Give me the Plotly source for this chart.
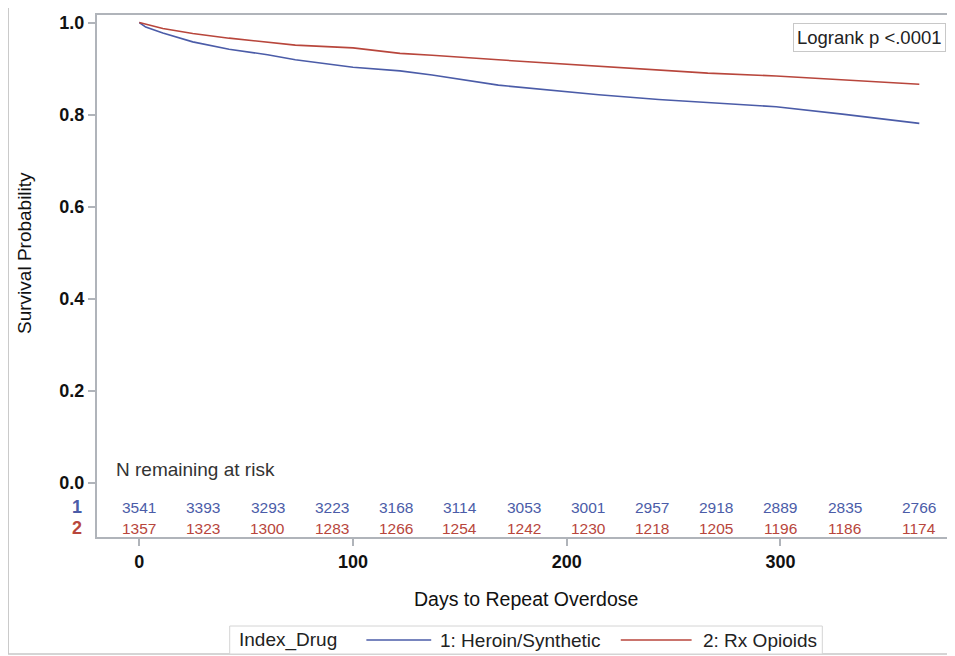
import plotly.graph_objects as go

# ---- data ----
days_heroin = [0, 3, 11, 25, 42, 60, 73, 100, 122, 137, 168, 199, 215, 243, 266, 298, 329, 350, 365]
surv_heroin = [1.000, 0.990, 0.977, 0.958, 0.942, 0.930, 0.919, 0.903, 0.895, 0.886, 0.864, 0.850,
               0.843, 0.833, 0.826, 0.817, 0.801, 0.790, 0.781]

days_rx = [0, 11, 25, 42, 73, 100, 122, 137, 168, 199, 215, 243, 266, 298, 329, 365]
surv_rx = [1.000, 0.987, 0.976, 0.966, 0.951, 0.945, 0.933, 0.929, 0.919, 0.910, 0.904, 0.897,
           0.890, 0.884, 0.875, 0.866]

risk_days = [0, 30, 60, 90, 120, 150, 180, 210, 240, 270, 300, 330, 365]
risk_heroin = [3541, 3393, 3293, 3223, 3168, 3114, 3053, 3001, 2957, 2918, 2889, 2835, 2766]
risk_rx = [1357, 1323, 1300, 1283, 1266, 1254, 1242, 1230, 1218, 1205, 1196, 1186, 1174]

series_names = ["1: Heroin/Synthetic", "2: Rx Opioids"]
legend_title = "Index_Drug"
x_ticks = [0, 100, 200, 300]
y_ticks = [0.0, 0.2, 0.4, 0.6, 0.8, 1.0]

BLUE = "#4b5ca8"
RED = "#b8463c"
FONT = "Liberation Sans, Arial, sans-serif"
GRAY = "#c8c8c8"

# geometry: page body has an 8px margin, so the figure is 8px smaller
OFF = 8
W, H = 955 - OFF, 656 - OFF
PL, PT, PR, PB = 97, 15, 951, 537          # plot box in reference pixels
L, T = PL - OFF, PT - OFF
R, B = W - (PR - OFF), H - (PB - OFF)
PW, PH = PR - PL, PB - PT

def px_x(p):
    return (p - PL) / PW

def px_y(p):
    return 1 - (p - PT) / PH

fig = go.Figure()
fig.add_trace(go.Scatter(x=days_heroin, y=surv_heroin, mode="lines", name=series_names[0],
                         line=dict(color=BLUE, width=1.6)))
fig.add_trace(go.Scatter(x=days_rx, y=surv_rx, mode="lines", name=series_names[1],
                         line=dict(color=RED, width=1.6)))

ann = []
for d, n in zip(risk_days, risk_heroin):
    ann.append(dict(x=d, y=-0.052, xref="x", yref="y", text=str(n), showarrow=False,
                    font=dict(family=FONT, size=15.5, color=BLUE)))
for d, n in zip(risk_days, risk_rx):
    ann.append(dict(x=d, y=-0.098, xref="x", yref="y", text=str(n), showarrow=False,
                    font=dict(family=FONT, size=15.5, color=RED)))
ann.append(dict(x=px_x(84), y=-0.052, xref="paper", yref="y", text="<b>1</b>", showarrow=False,
                xanchor="right", font=dict(family=FONT, size=18, color=BLUE)))
ann.append(dict(x=px_x(84), y=-0.098, xref="paper", yref="y", text="<b>2</b>", showarrow=False,
                xanchor="right", font=dict(family=FONT, size=18, color=RED)))
ann.append(dict(x=px_x(114), y=px_y(469), xref="paper", yref="paper", text="N remaining at risk",
                showarrow=False, xanchor="left", yanchor="middle",
                font=dict(family=FONT, size=19, color="#333333")))
ann.append(dict(x=px_x(948), y=px_y(23), xref="paper", yref="paper", text="Logrank p <.0001",
                showarrow=False, xanchor="right", yanchor="top", bordercolor=GRAY,
                borderwidth=1, borderpad=3, bgcolor="white",
                font=dict(family=FONT, size=18.5, color="#222222")))
ann.append(dict(x=px_x(25), y=0.5, xref="paper", yref="y", text="Survival Probability",
                showarrow=False, textangle=-90, xanchor="center", yanchor="middle",
                font=dict(family=FONT, size=19, color="#111111")))
ann.append(dict(x=px_x(527), y=px_y(599), xref="paper", yref="paper", text="Days to Repeat Overdose",
                showarrow=False, xanchor="center", yanchor="middle",
                font=dict(family=FONT, size=19.5, color="#111111")))

# legend (drawn as a bordered strip below the axis title)
LEG_Y = 640
ann.append(dict(x=px_x(237), y=px_y(LEG_Y), xref="paper", yref="paper", text=legend_title,
                showarrow=False, xanchor="left", yanchor="middle",
                font=dict(family=FONT, size=19, color="#222222")))
ann.append(dict(x=px_x(439), y=px_y(LEG_Y), xref="paper", yref="paper", text=series_names[0],
                showarrow=False, xanchor="left", yanchor="middle",
                font=dict(family=FONT, size=19, color="#222222")))
ann.append(dict(x=px_x(702), y=px_y(LEG_Y), xref="paper", yref="paper", text=series_names[1],
                showarrow=False, xanchor="left", yanchor="middle",
                font=dict(family=FONT, size=19, color="#222222")))

shapes = [
    dict(type="rect", xref="paper", yref="paper",
         x0=px_x(8), x1=px_x(970), y0=px_y(654), y1=px_y(7),
         line=dict(color=GRAY, width=1.5), layer="below"),
    dict(type="rect", xref="paper", yref="paper",
         x0=px_x(230), x1=px_x(824), y0=px_y(654), y1=px_y(626),
         line=dict(color="#d4d4d4", width=1), fillcolor="white", layer="below"),
    dict(type="line", xref="paper", yref="paper",
         x0=px_x(367), x1=px_x(432), y0=px_y(LEG_Y), y1=px_y(LEG_Y),
         line=dict(color=BLUE, width=1.6)),
    dict(type="line", xref="paper", yref="paper",
         x0=px_x(622), x1=px_x(693), y0=px_y(LEG_Y), y1=px_y(LEG_Y),
         line=dict(color=RED, width=1.6)),
]

fig.update_layout(
    width=W, height=H,
    margin=dict(l=L, r=R, t=T, b=B),
    paper_bgcolor="white", plot_bgcolor="white",
    annotations=ann, shapes=shapes,
    showlegend=False,
    xaxis=dict(range=[-19.8, 378.9], tickvals=x_ticks, ticktext=[f"<b>{v}</b>" for v in x_ticks],
               showgrid=False, zeroline=False, showline=True, linecolor="#b0b4ba", linewidth=2,
               mirror=True, ticks="outside", ticklen=7, tickcolor="#b0b4ba", tickwidth=1.5,
               tickfont=dict(family=FONT, size=18, color="#111111")),
    yaxis=dict(range=[-0.117, 1.0163], tickvals=y_ticks, ticktext=[f"<b>{v:.1f}</b>" for v in y_ticks],
               showgrid=False, zeroline=False, showline=True, linecolor="#b0b4ba", linewidth=2,
               mirror=True, ticks="outside", ticklen=7, tickcolor="#b0b4ba", tickwidth=1.5,
               tickfont=dict(family=FONT, size=18, color="#111111")),
)

fig.write_html("out.html")
